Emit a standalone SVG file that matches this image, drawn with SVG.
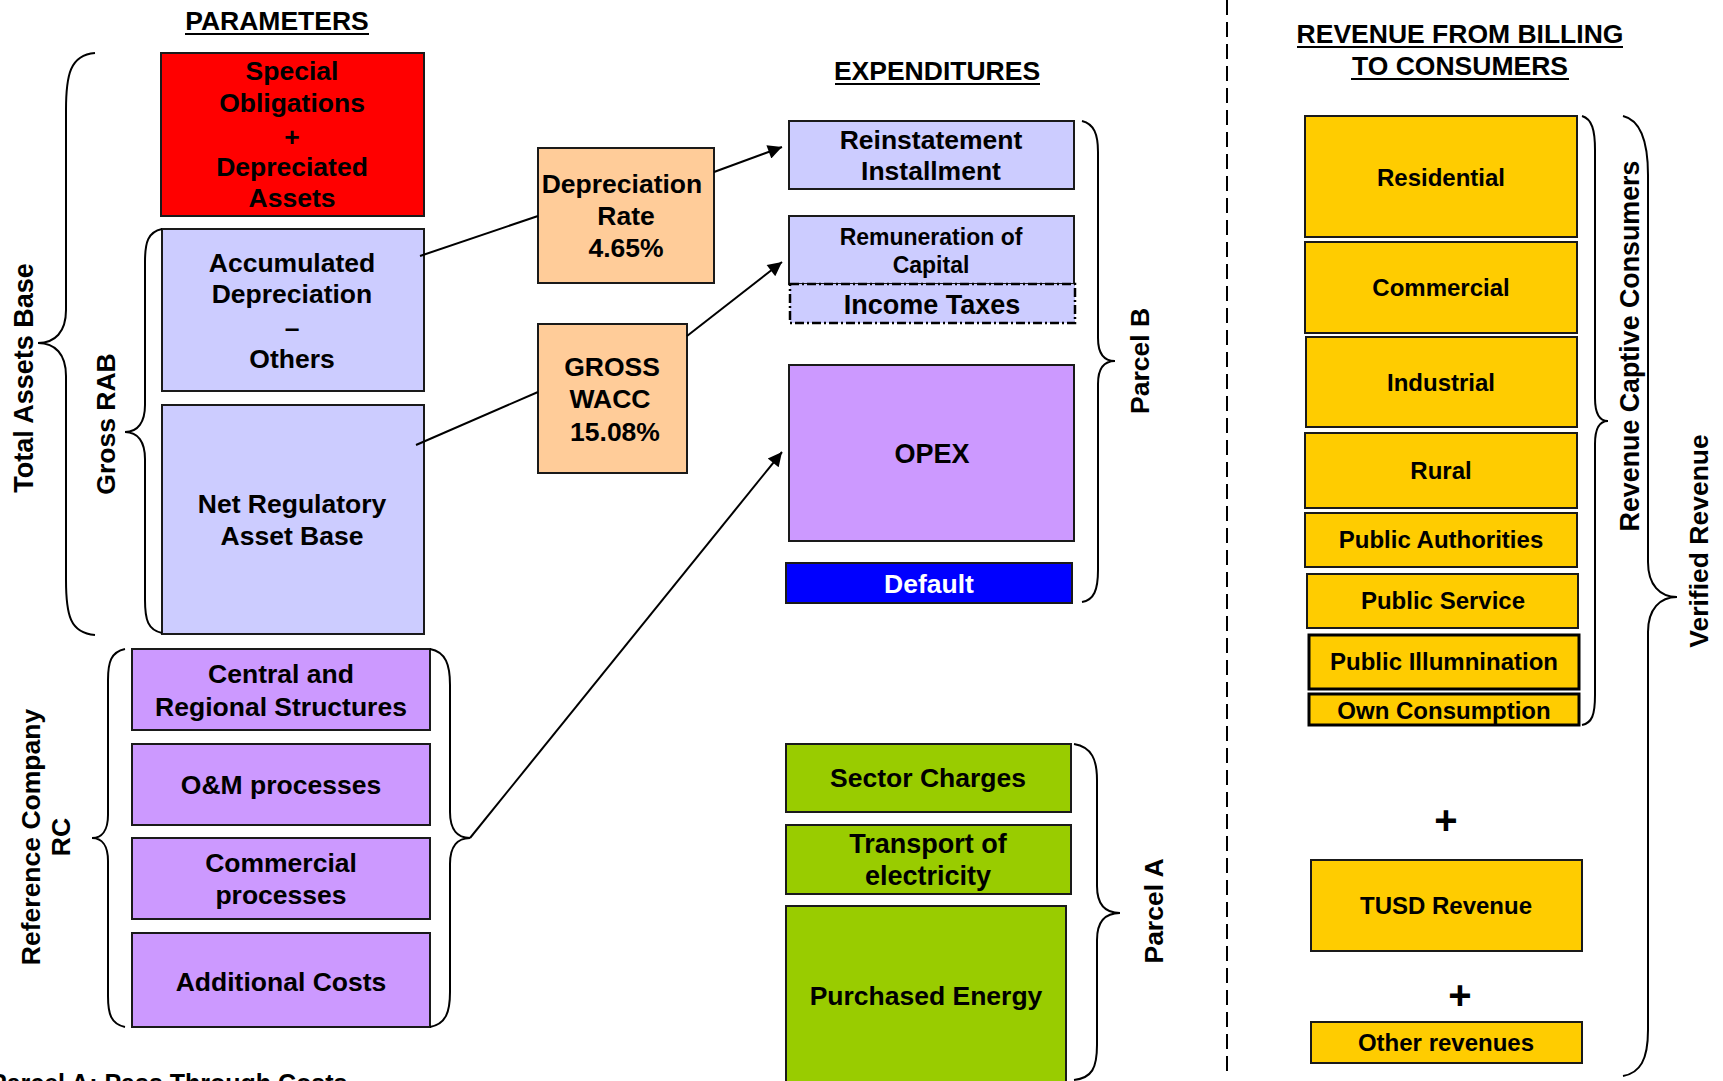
<svg xmlns="http://www.w3.org/2000/svg" width="1723" height="1081" viewBox="0 0 1723 1081">
<style>
text{font-family:"Liberation Sans",Arial,sans-serif;font-weight:bold;fill:#000;text-anchor:middle}
.box{stroke:#1a1a1a;stroke-width:2}
.red{fill:#FF0000}
.lav{fill:#CCCCFF}
.pur{fill:#CC99FF}
.org{fill:#FFCC99}
.blu{fill:#0000FF}
.grn{fill:#99CC00}
.yel{fill:#FFCC00}
.f27{font-size:27px}
.f26{font-size:26.5px}
.f24{font-size:24px}
.f23{font-size:23px}
.brace{fill:none;stroke:#000;stroke-width:2}
.conn{fill:none;stroke:#000;stroke-width:2}
.ul{stroke:#000;stroke-width:2}
</style>
<defs>
<marker id="ah" viewBox="0 0 10 10" refX="10" refY="5" markerWidth="8" markerHeight="7" markerUnits="strokeWidth" orient="auto">
<path d="M0,0 L10,5 L0,10 z" fill="#000"/>
</marker>
</defs>
<rect width="1723" height="1081" fill="#fff"/>

<!-- headings -->
<g id="headings">
<text class="f26" x="277" y="30">PARAMETERS</text>
<line class="ul" x1="185" y1="34" x2="369" y2="34"/>
<text class="f26" x="937" y="80">EXPENDITURES</text>
<line class="ul" x1="835" y1="84" x2="1040" y2="84"/>
<text class="f26" x="1460" y="43">REVENUE FROM BILLING</text>
<line class="ul" x1="1297" y1="47" x2="1623" y2="47"/>
<text class="f26" x="1460" y="75">TO CONSUMERS</text>
<line class="ul" x1="1351" y1="79" x2="1569" y2="79"/>
</g>

<!-- separator -->
<line x1="1227" y1="0" x2="1227" y2="1078" stroke="#000" stroke-width="2" stroke-dasharray="15 7"/>

<!-- Parameters column -->
<g id="special-obligations">
<rect class="box red" x="161" y="53" width="263" height="163"/>
<text class="f26" x="292" y="80">Special</text>
<text class="f26" x="292" y="112">Obligations</text>
<text class="f26" x="292" y="146">+</text>
<text class="f26" x="292" y="176">Depreciated</text>
<text class="f26" x="292" y="207">Assets</text>
</g>
<g id="accumulated-depreciation">
<rect class="box lav" x="162" y="229" width="262" height="162"/>
<text class="f26" x="292" y="272">Accumulated</text>
<text class="f26" x="292" y="303">Depreciation</text>
<text class="f26" x="292" y="337">–</text>
<text class="f26" x="292" y="368">Others</text>
</g>
<g id="net-rab">
<rect class="box lav" x="162" y="405" width="262" height="229"/>
<text class="f26" x="292" y="513">Net Regulatory</text>
<text class="f26" x="292" y="545">Asset Base</text>
</g>

<g id="rc-central">
<rect class="box pur" x="132" y="649" width="298" height="81"/>
<text class="f26" x="281" y="683">Central and</text>
<text class="f26" x="281" y="716">Regional Structures</text>
</g>
<g id="rc-om">
<rect class="box pur" x="132" y="744" width="298" height="81"/>
<text class="f26" x="281" y="794">O&amp;M processes</text>
</g>
<g id="rc-commercial">
<rect class="box pur" x="132" y="838" width="298" height="81"/>
<text class="f26" x="281" y="872">Commercial</text>
<text class="f26" x="281" y="904">processes</text>
</g>
<g id="rc-additional">
<rect class="box pur" x="132" y="933" width="298" height="94"/>
<text class="f26" x="281" y="991">Additional Costs</text>
</g>

<g id="depreciation-rate">
<rect class="box org" x="538" y="148" width="176" height="135"/>
<text class="f26" x="622" y="193">Depreciation</text>
<text class="f26" x="626" y="225">Rate</text>
<text class="f26" x="626" y="257">4.65%</text>
</g>
<g id="gross-wacc">
<rect class="box org" x="538" y="324" width="149" height="149"/>
<text class="f26" x="612" y="376">GROSS</text>
<text class="f26" x="610" y="408">WACC</text>
<text class="f26" x="615" y="441">15.08%</text>
</g>

<!-- Expenditures -->
<g id="reinstatement">
<rect class="box lav" x="789" y="121" width="285" height="68"/>
<text class="f26" x="931" y="149">Reinstatement</text>
<text class="f26" x="931" y="180">Installment</text>
</g>
<g id="remuneration">
<rect class="box lav" x="789" y="216" width="285" height="68"/>
<text class="f23" x="931" y="245">Remuneration of</text>
<text class="f23" x="931" y="273">Capital</text>
</g>
<g id="income-taxes">
<rect class="lav" x="790" y="284" width="285" height="39"/>
<path d="M790,284 H1075 V323 H790 Z" fill="none" stroke="#000" stroke-width="2.5" stroke-dasharray="9 3 2 3"/>
<text class="f27" x="932" y="314">Income Taxes</text>
</g>
<g id="opex">
<rect class="box pur" x="789" y="365" width="285" height="176"/>
<text class="f27" x="932" y="463">OPEX</text>
</g>
<g id="default">
<rect class="box blu" x="786" y="563" width="286" height="40"/>
<text class="f26" x="929" y="593" style="fill:#fff">Default</text>
</g>
<g id="sector-charges">
<rect class="box grn" x="786" y="744" width="285" height="68"/>
<text class="f26" x="928" y="787">Sector Charges</text>
</g>
<g id="transport">
<rect class="box grn" x="786" y="825" width="285" height="69"/>
<text class="f27" x="928" y="853">Transport of</text>
<text class="f27" x="928" y="885">electricity</text>
</g>
<g id="purchased-energy">
<rect class="box grn" x="786" y="906" width="280" height="190"/>
<text class="f26" x="926" y="1005">Purchased Energy</text>
</g>

<!-- Revenue -->
<g id="residential">
<rect class="box yel" x="1305" y="116" width="272" height="121"/>
<text class="f24" x="1441" y="186">Residential</text>
</g>
<g id="commercial">
<rect class="box yel" x="1305" y="242" width="272" height="91"/>
<text class="f24" x="1441" y="296">Commercial</text>
</g>
<g id="industrial">
<rect class="box yel" x="1306" y="337" width="271" height="90"/>
<text class="f24" x="1441" y="391">Industrial</text>
</g>
<g id="rural">
<rect class="box yel" x="1305" y="433" width="272" height="75"/>
<text class="f24" x="1441" y="479">Rural</text>
</g>
<g id="public-authorities">
<rect class="box yel" x="1305" y="513" width="272" height="54"/>
<text class="f24" x="1441" y="548">Public Authorities</text>
</g>
<g id="public-service">
<rect class="box yel" x="1307" y="574" width="271" height="54"/>
<text class="f24" x="1443" y="609">Public Service</text>
</g>
<g id="public-illumination">
<rect class="yel" x="1309" y="635" width="270" height="54" stroke="#000" stroke-width="3"/>
<text class="f24" x="1444" y="670">Public Illumnination</text>
</g>
<g id="own-consumption">
<rect class="yel" x="1309" y="694" width="270" height="31" stroke="#000" stroke-width="3"/>
<text class="f24" x="1444" y="719">Own Consumption</text>
</g>
<g id="plus-1">
<text x="1446" y="834" style="font-size:40px">+</text>
</g>
<g id="tusd-revenue">
<rect class="box yel" x="1311" y="860" width="271" height="91"/>
<text class="f24" x="1446" y="914">TUSD Revenue</text>
</g>
<g id="plus-2">
<text x="1460" y="1009" style="font-size:40px">+</text>
</g>
<g id="other-revenues">
<rect class="box yel" x="1311" y="1022" width="271" height="41"/>
<text class="f24" x="1446" y="1051">Other revenues</text>
</g>

<!-- braces and their labels -->
<g id="braces">
<path class="brace" d="M95,53 C70,55 66,75 66,110 L66,310 C66,332 55,343 38,343 C55,343 66,354 66,376 L66,580 C66,615 70,633 95,635"/>
<path class="brace" d="M162,229 C148,232 145,242 145,262 L145,405 C145,422 138,432 125,432 C138,432 145,442 145,459 L145,600 C145,620 148,630 162,633"/>
<path class="brace" d="M125,649 C111,652 108,662 108,680 L108,815 C108,830 102,838 92,838 C102,838 108,846 108,861 L108,996 C108,1014 111,1024 125,1027"/>
<path class="brace" d="M430,649 C446,652 450,665 450,685 L450,812 C450,830 458,838 470,838 C458,838 450,846 450,864 L450,992 C450,1012 446,1024 430,1027"/>
<path class="brace" d="M1082,121 C1094,124 1098,134 1098,152 L1098,338 C1098,354 1104,361 1115,361 C1104,361 1098,368 1098,384 L1098,570 C1098,590 1094,600 1082,602"/>
<path class="brace" d="M1074,744 C1092,747 1097,760 1097,780 L1097,886 C1097,905 1106,913 1120,913 C1106,913 1097,921 1097,940 L1097,1045 C1097,1068 1092,1078 1074,1080"/>
<path class="brace" d="M1582,116 C1592,119 1595,130 1595,150 L1595,398 C1595,414 1600,421 1608,421 C1600,421 1595,428 1595,444 L1595,695 C1595,715 1592,723 1582,725"/>
<path class="brace" d="M1623,116 C1640,120 1648,140 1648,175 L1648,562 C1648,585 1660,597 1677,597 C1660,597 1648,609 1648,632 L1648,1030 C1648,1060 1640,1073 1623,1076"/>
<text class="f26" transform="translate(33,378) rotate(-90)" style="font-size:27px">Total Assets Base</text>
<text class="f26" transform="translate(115,424) rotate(-90)">Gross RAB</text>
<text class="f26" transform="translate(40,837) rotate(-90)">Reference Company</text>
<text class="f26" transform="translate(70,837) rotate(-90)">RC</text>
<text class="f26" transform="translate(1149,361) rotate(-90)">Parcel B</text>
<text class="f26" transform="translate(1163,911) rotate(-90)">Parcel A</text>
<text class="f26" transform="translate(1639,346) rotate(-90)" style="font-size:26.8px">Revenue Captive Consumers</text>
<text class="f26" transform="translate(1708,541) rotate(-90)">Verified Revenue</text>
</g>

<!-- connectors -->
<g id="connectors">
<line class="conn" x1="420" y1="256" x2="538" y2="216"/>
<line class="conn" x1="416" y1="445" x2="538" y2="392"/>
<line class="conn" x1="714" y1="172" x2="782" y2="147" marker-end="url(#ah)"/>
<line class="conn" x1="687" y1="336" x2="782" y2="262" marker-end="url(#ah)"/>
<line class="conn" x1="470" y1="838" x2="782" y2="452" marker-end="url(#ah)"/>
</g>

<!-- cut-off footer text -->
<text x="-10" y="1092" style="text-anchor:start;font-size:25px">Parcel A: Pass Through Costs</text>
</svg>
